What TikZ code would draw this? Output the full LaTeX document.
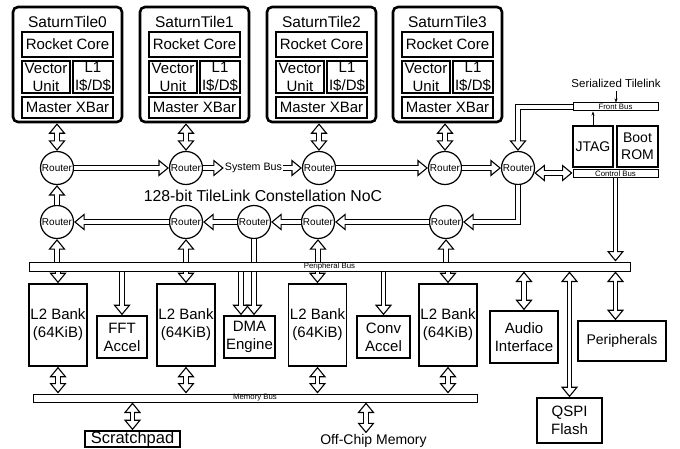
\documentclass[tikz,border=0pt]{standalone}
\usepackage{fontspec}
\setmainfont{Liberation Sans}
\usetikzlibrary{arrows.meta, positioning}

\newcommand{\boxfont}{\fontsize{15pt}{18pt}\selectfont}
\newcommand{\busfont}{\fontsize{7.8pt}{9pt}\selectfont}

\tikzset{
    tile/.style={rectangle, draw, line width=2.6pt, rounded corners=5pt, minimum width=109pt, minimum height=115pt},
    tiletitle/.style={inner sep=0pt, font=\fontsize{15.5pt}{18pt}\selectfont},
    unit/.style={rectangle, draw, line width=1.4pt, align=center, inner sep=0pt, font=\boxfont},
    corebox/.style={unit, minimum width=91pt, minimum height=25pt},
    vecbox/.style={unit, minimum width=48pt, minimum height=32pt},
    cachebox/.style={unit, minimum width=40pt, minimum height=32pt},
    xbarbox/.style={unit, minimum width=91pt, minimum height=21pt},
    bank/.style={unit, line width=1.6pt, minimum width=58pt, minimum height=82pt},
    accel/.style={unit, line width=1.6pt},
    router/.style={circle, draw, fill=white, line width=1.2pt, minimum size=33pt, inner sep=0pt, font=\fontsize{10pt}{12pt}\selectfont},
    busbar/.style={rectangle, draw, fill=white, line width=1pt, inner sep=0pt, font=\busfont},
    caption/.style={inner sep=1pt},
    wire/.style={draw, line width=5.6pt, postaction={draw=white, line width=3.4pt, -}},
    hollow/.style={draw, line width=5.6pt, >={Triangle[fill=white, line width=1.1pt, length=10.5pt, width=17pt]}, ->,
        postaction={draw=white, line width=3.4pt, -, shorten >=8pt}},
    hollowboth/.style={draw, line width=5.6pt, >={Triangle[fill=white, line width=1.1pt, length=10.5pt, width=17pt]}, <->,
        postaction={draw=white, line width=3.4pt, -, shorten >=8pt, shorten <=8pt}},
    sigline/.style={-{Stealth[length=4pt, width=3pt]}, line width=0.5pt},
}

\begin{document}
\begin{tikzpicture}[x=1pt, y=-1pt]
    \useasboundingbox (0,0) rectangle (680,449);

    % Tile 0
    \node[tile] (tile0) at (67.5,64.5) {};
    \node[tiletitle] (title0) at (67.5,22) {SaturnTile0};
    \node[corebox] (core0) at (67.5,44.5) {Rocket Core};
    \node[vecbox] (vec0) at (46,77) {Vector\\Unit};
    \node[cachebox] (l1c0) at (93,77) {L1\\I\$/D\$};
    \node[xbarbox] (xbar0) at (67.5,107.5) {Master XBar};

    % Tile 1
    \node[tile] (tile1) at (194.5,64.5) {};
    \node[tiletitle] (title1) at (194.5,22) {SaturnTile1};
    \node[corebox] (core1) at (194.5,44.5) {Rocket Core};
    \node[vecbox] (vec1) at (173,77) {Vector\\Unit};
    \node[cachebox] (l1c1) at (220,77) {L1\\I\$/D\$};
    \node[xbarbox] (xbar1) at (194.5,107.5) {Master XBar};

    % Tile 2
    \node[tile] (tile2) at (321.5,64.5) {};
    \node[tiletitle] (title2) at (321.5,22) {SaturnTile2};
    \node[corebox] (core2) at (321.5,44.5) {Rocket Core};
    \node[vecbox] (vec2) at (300,77) {Vector\\Unit};
    \node[cachebox] (l1c2) at (347,77) {L1\\I\$/D\$};
    \node[xbarbox] (xbar2) at (321.5,107.5) {Master XBar};

    % Tile 3
    \node[tile] (tile3) at (447.5,64.5) {};
    \node[tiletitle] (title3) at (447.5,22) {SaturnTile3};
    \node[corebox] (core3) at (447.5,44.5) {Rocket Core};
    \node[vecbox] (vec3) at (426,77) {Vector\\Unit};
    \node[cachebox] (l1c3) at (473,77) {L1\\I\$/D\$};
    \node[xbarbox] (xbar3) at (447.5,107.5) {Master XBar};

    % NoC routers
    \node[router] (rA0) at (57,168) {Router};
    \node[router] (rA1) at (186,168) {Router};
    \node[caption, font=\fontsize{10.7pt}{12pt}\selectfont] (sysbus) at (253.5,168) {System Bus};
    \node[router] (rA2) at (319,168) {Router};
    \node[router] (rA3) at (445,168) {Router};
    \node[router] (rA4) at (518,168) {Router};
    \node[font=\fontsize{15.8pt}{18pt}\selectfont] (noc) at (263,196) {128-bit TileLink Constellation NoC};
    \node[router] (rB0) at (57,222) {Router};
    \node[router] (rB1) at (186,222) {Router};
    \node[router] (rB2) at (254,222) {Router};
    \node[router] (rB3) at (318,222) {Router};
    \node[router] (rB4) at (446,222) {Router};

    % Debug / boot
    \node[font=\fontsize{11.5pt}{13pt}\selectfont] (sertl) at (616,83) {Serialized Tilelink};
    \node[busbar, minimum width=85pt, minimum height=8pt] (front) at (615.5,107) {Front Bus};
    \node[unit, minimum width=40pt, minimum height=41pt, font=\fontsize{14pt}{16.5pt}\selectfont] (jtag) at (593,146.5) {JTAG};
    \node[unit, minimum width=41pt, minimum height=41pt, font=\fontsize{14pt}{16.5pt}\selectfont] (bootrom) at (637.5,146.5) {Boot\\ROM};
    \node[busbar, minimum width=85pt, minimum height=8pt] (ctrl) at (615.5,174) {Control Bus};

    % Buses
    \node[busbar, minimum width=601pt, minimum height=9pt] (pbus) at (329.5,266.5) {Peripheral Bus};
    \node[busbar, minimum width=444pt, minimum height=8pt] (mbus) at (255,398) {Memory Bus};

    % Banks and accelerators
    \node[bank] (l2a) at (58,325) {L2 Bank\\(64KiB)};
    \node[accel, minimum width=50pt, minimum height=42pt] (fft) at (122,337) {FFT\\Accel};
    \node[bank] (l2b) at (186,325) {L2 Bank\\(64KiB)};
    \node[accel, minimum width=51pt, minimum height=42pt] (dma) at (249.5,337) {DMA\\Engine};
    \node[bank] (l2c) at (317.5,325) {L2 Bank\\(64KiB)};
    \node[accel, minimum width=53pt, minimum height=42pt] (conv) at (383.5,337) {Conv\\Accel};
    \node[bank] (l2d) at (448,325) {L2 Bank\\(64KiB)};
    \node[accel, minimum width=68pt, minimum height=52pt] (audio) at (524,337) {Audio\\Interface};
    \node[accel, minimum width=88pt, minimum height=40pt, font=\fontsize{14pt}{17pt}\selectfont] (periph) at (622,341) {Peripherals};
    \node[accel, minimum width=65pt, minimum height=45pt] (qspi) at (569.5,420.5) {QSPI\\Flash};

    % Memory side
    \node[accel, minimum width=95pt, minimum height=16pt, font=\fontsize{16.5pt}{18pt}\selectfont] (spad) at (132.5,439) {Scratchpad};
    \node[font=\fontsize{14pt}{17pt}\selectfont, inner sep=1pt] (offchip) at (373.5,441) {Off-Chip Memory};

    % Tiles to routers
    \draw[hollowboth] (tile0.south -| rA0) -- (rA0);
    \draw[hollowboth] (tile1.south -| rA1) -- (rA1);
    \draw[hollowboth] (tile2.south -| rA2) -- (rA2);
    \draw[hollowboth] (tile3.south -| rA3) -- (rA3);

    % Ring
    \draw[hollow] (rA0) -- (rA1);
    \draw[hollow] (rA1) -- (sysbus);
    \draw[hollow] (sysbus) -- (rA2);
    \draw[hollow] (rA2) -- (rA3);
    \draw[hollow] (rA3) -- (rA4);
    \draw[hollow] (rA4) |- (rB4);
    \draw[hollow] (rB4) -- (rB3);
    \draw[hollow] (rB3) -- (rB2);
    \draw[hollow] (rB2) -- (rB1);
    \draw[hollow] (rB1) -- (rB0);
    \draw[hollow] (rB0) -- (rA0);

    % Front / control bus
    \draw[sigline] (sertl.south) -- (sertl.south |- front.north);
    \draw[sigline] (jtag.north) -- (jtag.north |- front.south);
    \draw[hollow] (front.west) -| (rA4);
    \draw[hollowboth] (rA4.-17) -- (rA4.-17 -| ctrl.west);
    \draw[hollow] (ctrl.south) -- (ctrl.south |- pbus.north);

    % Peripheral bus to routers
    \draw[hollow] (rB0 |- pbus.north) -- (rB0);
    \draw[hollow] (rB1 |- pbus.north) -- (rB1);
    \draw[hollow] (rB3 |- pbus.north) -- (rB3);
    \draw[hollow] (rB4 |- pbus.north) -- (rB4);
    \draw[wire] (rB2) -- (rB2 |- pbus.north);

    % Peripheral bus to devices
    \draw[hollow] (l2a.north |- pbus.south) -- (l2a.north);
    \draw[hollow] (l2b.north |- pbus.south) -- (l2b.north);
    \draw[hollow] (l2c.north |- pbus.south) -- (l2c.north);
    \draw[hollow] (l2d.north |- pbus.south) -- (l2d.north);
    \draw[hollow] (fft.north |- pbus.south) -- (fft.north);
    \draw[hollow] ([xshift=-8.5pt]dma.north |- pbus.south) -- ([xshift=-8.5pt]dma.north);
    \draw[hollow] (rB2 |- pbus.south) -- (rB2 |- dma.north);
    \draw[hollow] (conv.north |- pbus.south) -- (conv.north);
    \draw[hollowboth] (audio.north |- pbus.south) -- (audio.north);
    \draw[hollowboth] (qspi.north |- pbus.south) -- (qspi.north);
    \draw[hollowboth] (ctrl.south |- pbus.south) -- (ctrl.south |- periph.north);

    % Memory bus
    \draw[hollowboth] (l2a.south) -- (l2a.south |- mbus.north);
    \draw[hollowboth] (l2b.south) -- (l2b.south |- mbus.north);
    \draw[hollowboth] (l2c.south) -- (l2c.south |- mbus.north);
    \draw[hollowboth] (l2d.south) -- (l2d.south |- mbus.north);
    \draw[hollowboth] (spad.north |- mbus.south) -- (spad.north);
    \draw[hollowboth] ([xshift=-7.5pt]offchip.north |- mbus.south) -- ([xshift=-7.5pt]offchip.north);
\end{tikzpicture}
\end{document}
